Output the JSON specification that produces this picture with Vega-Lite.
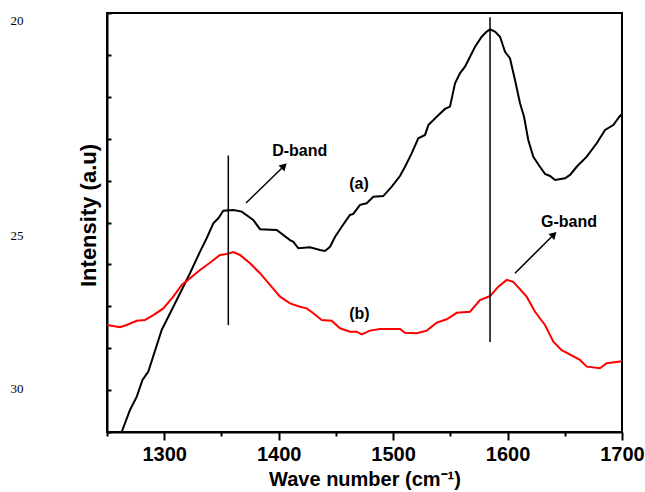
{
  "$schema": "https://vega.github.io/schema/vega-lite/v6.json",
  "autosize": "none",
  "width": 515,
  "height": 419,
  "padding": {"left": 107, "top": 13, "right": 23, "bottom": 60},
  "background": "white",
  "config": {
    "view": {"stroke": "black", "strokeWidth": 2},
    "axis": {"domainColor": "black", "domainWidth": 2, "tickColor": "black", "tickWidth": 2, "grid": false}
  },
  "datasets": {
    "curves": [
      {"x": 1262.8, "y": 0.0, "s": "a"},
      {"x": 1270.1, "y": 1.05, "s": "a"},
      {"x": 1276.0, "y": 1.69, "s": "a"},
      {"x": 1281.0, "y": 2.48, "s": "a"},
      {"x": 1286.1, "y": 2.88, "s": "a"},
      {"x": 1297.8, "y": 4.87, "s": "a"},
      {"x": 1310.9, "y": 6.30, "s": "a"},
      {"x": 1322.5, "y": 7.58, "s": "a"},
      {"x": 1331.3, "y": 8.61, "s": "a"},
      {"x": 1337.1, "y": 9.25, "s": "a"},
      {"x": 1342.9, "y": 9.96, "s": "a"},
      {"x": 1347.3, "y": 10.20, "s": "a"},
      {"x": 1351.6, "y": 10.56, "s": "a"},
      {"x": 1360.4, "y": 10.60, "s": "a"},
      {"x": 1367.7, "y": 10.52, "s": "a"},
      {"x": 1377.8, "y": 10.12, "s": "a"},
      {"x": 1383.7, "y": 9.68, "s": "a"},
      {"x": 1398.3, "y": 9.64, "s": "a"},
      {"x": 1409.9, "y": 9.16, "s": "a"},
      {"x": 1412.8, "y": 9.08, "s": "a"},
      {"x": 1417.2, "y": 8.77, "s": "a"},
      {"x": 1427.4, "y": 8.82, "s": "a"},
      {"x": 1436.1, "y": 8.69, "s": "a"},
      {"x": 1440.5, "y": 8.64, "s": "a"},
      {"x": 1444.9, "y": 8.84, "s": "a"},
      {"x": 1449.3, "y": 9.32, "s": "a"},
      {"x": 1455.1, "y": 9.80, "s": "a"},
      {"x": 1462.3, "y": 10.36, "s": "a"},
      {"x": 1465.2, "y": 10.41, "s": "a"},
      {"x": 1471.1, "y": 10.84, "s": "a"},
      {"x": 1476.9, "y": 10.92, "s": "a"},
      {"x": 1482.7, "y": 11.23, "s": "a"},
      {"x": 1491.4, "y": 11.26, "s": "a"},
      {"x": 1498.8, "y": 11.71, "s": "a"},
      {"x": 1506.0, "y": 12.22, "s": "a"},
      {"x": 1510.4, "y": 12.66, "s": "a"},
      {"x": 1516.2, "y": 13.30, "s": "a"},
      {"x": 1522.0, "y": 14.02, "s": "a"},
      {"x": 1527.9, "y": 14.18, "s": "a"},
      {"x": 1530.8, "y": 14.65, "s": "a"},
      {"x": 1538.1, "y": 15.05, "s": "a"},
      {"x": 1545.3, "y": 15.42, "s": "a"},
      {"x": 1549.7, "y": 15.53, "s": "a"},
      {"x": 1554.1, "y": 16.64, "s": "a"},
      {"x": 1558.4, "y": 17.12, "s": "a"},
      {"x": 1562.8, "y": 17.44, "s": "a"},
      {"x": 1567.2, "y": 17.91, "s": "a"},
      {"x": 1571.6, "y": 18.39, "s": "a"},
      {"x": 1577.4, "y": 18.87, "s": "a"},
      {"x": 1581.8, "y": 19.11, "s": "a"},
      {"x": 1584.7, "y": 19.22, "s": "a"},
      {"x": 1589.0, "y": 19.11, "s": "a"},
      {"x": 1593.4, "y": 18.87, "s": "a"},
      {"x": 1597.8, "y": 18.15, "s": "a"},
      {"x": 1602.1, "y": 17.84, "s": "a"},
      {"x": 1606.5, "y": 16.80, "s": "a"},
      {"x": 1610.9, "y": 15.69, "s": "a"},
      {"x": 1614.4, "y": 15.05, "s": "a"},
      {"x": 1618.1, "y": 13.94, "s": "a"},
      {"x": 1622.5, "y": 13.14, "s": "a"},
      {"x": 1628.3, "y": 12.66, "s": "a"},
      {"x": 1632.7, "y": 12.32, "s": "a"},
      {"x": 1637.1, "y": 12.22, "s": "a"},
      {"x": 1641.5, "y": 12.03, "s": "a"},
      {"x": 1650.2, "y": 12.11, "s": "a"},
      {"x": 1654.6, "y": 12.27, "s": "a"},
      {"x": 1660.4, "y": 12.66, "s": "a"},
      {"x": 1669.2, "y": 13.14, "s": "a"},
      {"x": 1677.9, "y": 13.78, "s": "a"},
      {"x": 1685.2, "y": 14.42, "s": "a"},
      {"x": 1692.4, "y": 14.65, "s": "a"},
      {"x": 1697.7, "y": 15.05, "s": "a"},
      {"x": 1700.0, "y": 15.18, "s": "a"},
      {"x": 1250.0, "y": 5.11, "s": "b"},
      {"x": 1261.4, "y": 5.00, "s": "b"},
      {"x": 1267.2, "y": 5.11, "s": "b"},
      {"x": 1276.0, "y": 5.31, "s": "b"},
      {"x": 1283.2, "y": 5.35, "s": "b"},
      {"x": 1290.5, "y": 5.58, "s": "b"},
      {"x": 1299.2, "y": 5.90, "s": "b"},
      {"x": 1307.9, "y": 6.46, "s": "b"},
      {"x": 1315.3, "y": 7.02, "s": "b"},
      {"x": 1322.5, "y": 7.34, "s": "b"},
      {"x": 1331.3, "y": 7.73, "s": "b"},
      {"x": 1340.0, "y": 8.08, "s": "b"},
      {"x": 1348.7, "y": 8.45, "s": "b"},
      {"x": 1354.6, "y": 8.50, "s": "b"},
      {"x": 1360.4, "y": 8.59, "s": "b"},
      {"x": 1366.2, "y": 8.45, "s": "b"},
      {"x": 1375.0, "y": 8.05, "s": "b"},
      {"x": 1383.7, "y": 7.58, "s": "b"},
      {"x": 1392.4, "y": 7.02, "s": "b"},
      {"x": 1401.2, "y": 6.46, "s": "b"},
      {"x": 1409.9, "y": 6.14, "s": "b"},
      {"x": 1418.6, "y": 5.98, "s": "b"},
      {"x": 1424.5, "y": 5.90, "s": "b"},
      {"x": 1430.3, "y": 5.67, "s": "b"},
      {"x": 1437.6, "y": 5.35, "s": "b"},
      {"x": 1446.3, "y": 5.31, "s": "b"},
      {"x": 1453.6, "y": 4.95, "s": "b"},
      {"x": 1462.3, "y": 4.79, "s": "b"},
      {"x": 1468.2, "y": 4.79, "s": "b"},
      {"x": 1472.6, "y": 4.66, "s": "b"},
      {"x": 1479.8, "y": 4.84, "s": "b"},
      {"x": 1488.5, "y": 4.92, "s": "b"},
      {"x": 1506.0, "y": 4.92, "s": "b"},
      {"x": 1510.4, "y": 4.74, "s": "b"},
      {"x": 1520.6, "y": 4.71, "s": "b"},
      {"x": 1529.4, "y": 4.84, "s": "b"},
      {"x": 1538.1, "y": 5.22, "s": "b"},
      {"x": 1546.8, "y": 5.38, "s": "b"},
      {"x": 1555.6, "y": 5.69, "s": "b"},
      {"x": 1567.2, "y": 5.74, "s": "b"},
      {"x": 1575.9, "y": 6.30, "s": "b"},
      {"x": 1584.7, "y": 6.49, "s": "b"},
      {"x": 1591.9, "y": 6.94, "s": "b"},
      {"x": 1599.3, "y": 7.26, "s": "b"},
      {"x": 1605.0, "y": 7.17, "s": "b"},
      {"x": 1616.7, "y": 6.46, "s": "b"},
      {"x": 1624.0, "y": 5.74, "s": "b"},
      {"x": 1632.7, "y": 5.11, "s": "b"},
      {"x": 1640.0, "y": 4.31, "s": "b"},
      {"x": 1647.3, "y": 3.91, "s": "b"},
      {"x": 1663.3, "y": 3.44, "s": "b"},
      {"x": 1669.2, "y": 3.12, "s": "b"},
      {"x": 1680.8, "y": 3.04, "s": "b"},
      {"x": 1686.6, "y": 3.28, "s": "b"},
      {"x": 1698.3, "y": 3.36, "s": "b"},
      {"x": 1700.0, "y": 3.39, "s": "b"}
    ],
    "bandlines": [
      {"x": 1356.0, "y": 5.1, "y2": 13.2},
      {"x": 1584.7, "y": 4.3, "y2": 19.8}
    ],
    "arrows": [
      {"x": 1371.5, "y": 10.93, "x2": 1404.7, "y2": 12.70},
      {"x": 1606.5, "y": 7.58, "x2": 1640.5, "y2": 9.43}
    ],
    "heads": [
      {"x": 1404.7, "y": 12.70},
      {"x": 1640.5, "y": 9.43}
    ],
    "labels": [
      {"x": 1418.4, "y": 13.41, "t": "D-band"},
      {"x": 1653.7, "y": 10.02, "t": "G-band"},
      {"x": 1470.2, "y": 11.84, "t": "(a)"},
      {"x": 1470.6, "y": 5.63, "t": "(b)"}
    ],
    "margin": [
      {"x": 1171.4, "y": 19.62, "t": "20"},
      {"x": 1171.4, "y": 9.36, "t": "25"},
      {"x": 1171.4, "y": 2.05, "t": "30"}
    ]
  },
  "layer": [
    {
      "data": {"name": "curves"},
      "mark": {"type": "line", "strokeWidth": 2, "clip": true},
      "encoding": {
        "x": {
          "field": "x", "type": "quantitative",
          "scale": {"domain": [1250, 1700], "nice": false, "zero": false},
          "axis": {
            "title": "Wave number (cm⁻¹)",
            "titleFont": "Liberation Sans", "titleFontSize": 20, "titleFontWeight": "bold", "titleColor": "black",
            "titlePadding": 5,
            "values": [1250, 1300, 1350, 1400, 1450, 1500, 1550, 1600, 1650, 1700],
            "labelExpr": "datum.value % 100 === 0 ? datum.value : ''",
            "labelFont": "Liberation Sans", "labelFontSize": 20, "labelFontWeight": "bold", "labelColor": "black",
            "labelPadding": 4,
            "tickSize": {"condition": {"test": "datum.value % 100 === 0", "value": 8}, "value": 4},
            "labelFlush": false, "labelOverlap": false
          }
        },
        "y": {
          "field": "y", "type": "quantitative",
          "scale": {"domain": [0, 20], "nice": false, "zero": false},
          "axis": {
            "title": "Intensity (a.u)",
            "titleFont": "Liberation Sans", "titleFontSize": 22, "titleFontWeight": "bold", "titleColor": "black",
            "titleY": 202, "titlePadding": 6,
            "labels": false,
            "values": [0, 1, 2, 3, 4, 5, 6, 7, 8, 9, 10, 11, 12, 13, 14, 15, 16, 17, 18, 19, 20],
            "tickSize": -4
          }
        },
        "color": {
          "field": "s", "type": "nominal",
          "scale": {"domain": ["a", "b"], "range": ["#000000", "#ff0000"]},
          "legend": null
        },
        "detail": {"field": "s"}
      }
    },
    {
      "data": {"name": "bandlines"},
      "mark": {"type": "rule", "color": "black", "strokeWidth": 1.5},
      "encoding": {
        "x": {"field": "x", "type": "quantitative"},
        "y": {"field": "y", "type": "quantitative"},
        "y2": {"field": "y2"}
      }
    },
    {
      "data": {"name": "arrows"},
      "mark": {"type": "rule", "color": "black", "strokeWidth": 1.5},
      "encoding": {
        "x": {"field": "x", "type": "quantitative"},
        "y": {"field": "y", "type": "quantitative"},
        "x2": {"field": "x2"},
        "y2": {"field": "y2"}
      }
    },
    {
      "data": {"name": "heads"},
      "mark": {"type": "point", "shape": "triangle-up", "angle": 45, "filled": true, "color": "black", "size": 70, "opacity": 1},
      "encoding": {
        "x": {"field": "x", "type": "quantitative"},
        "y": {"field": "y", "type": "quantitative"}
      }
    },
    {
      "data": {"name": "labels"},
      "mark": {"type": "text", "font": "Liberation Sans", "fontSize": 16, "fontWeight": "bold", "color": "black", "baseline": "middle", "align": "center"},
      "encoding": {
        "x": {"field": "x", "type": "quantitative"},
        "y": {"field": "y", "type": "quantitative"},
        "text": {"field": "t"}
      }
    },
    {
      "data": {"name": "margin"},
      "mark": {"type": "text", "font": "Liberation Serif", "fontSize": 13, "color": "black", "baseline": "middle", "align": "center"},
      "encoding": {
        "x": {"field": "x", "type": "quantitative"},
        "y": {"field": "y", "type": "quantitative"},
        "text": {"field": "t"}
      }
    }
  ]
}
